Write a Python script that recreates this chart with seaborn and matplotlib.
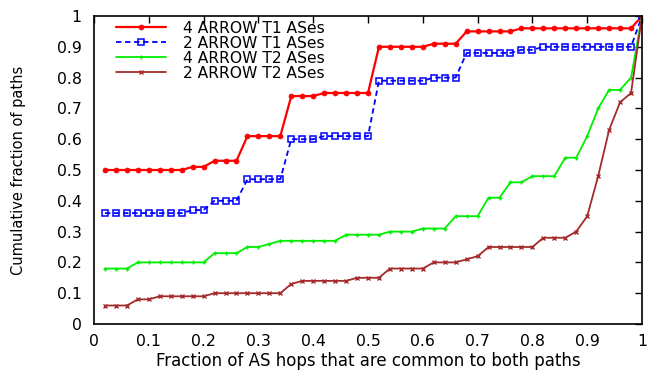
import numpy as np
import pandas as pd
import matplotlib
matplotlib.use("Agg")
import matplotlib.pyplot as plt
import seaborn as sns

# Fraction of AS hops shared by both paths (x) and the cumulative fraction of paths (y)
hop_fraction = [round(0.02 * i, 2) for i in range(1, 51)]

arrow4_t1 = ([0.50] * 8 + [0.51] * 2 + [0.53] * 3 + [0.61] * 4 + [0.74] * 3 +
             [0.75] * 5 + [0.90] * 5 + [0.91] * 3 + [0.95] * 5 + [0.96] * 11 + [1.00])
arrow2_t1 = ([0.36] * 8 + [0.37] * 2 + [0.40] * 3 + [0.47] * 4 + [0.60] * 3 +
             [0.61] * 5 + [0.79] * 5 + [0.80] * 3 + [0.88] * 5 + [0.89] * 2 +
             [0.90] * 9 + [1.00])
arrow4_t2 = ([0.18] * 3 + [0.20] * 7 + [0.23] * 3 + [0.25] * 2 + [0.26] +
             [0.27] * 6 + [0.29] * 4 + [0.30] * 3 + [0.31] * 3 + [0.35] * 3 +
             [0.41] * 2 + [0.46] * 2 + [0.48] * 3 + [0.54] * 2 + [0.61] + [0.70] +
             [0.76] * 2 + [0.80] + [1.00])
arrow2_t2 = ([0.06] * 3 + [0.08] * 2 + [0.09] * 5 + [0.10] * 7 + [0.13] +
             [0.14] * 5 + [0.15] * 3 + [0.18] * 4 + [0.20] * 3 + [0.21] + [0.22] +
             [0.25] * 5 + [0.28] * 3 + [0.30] + [0.35] + [0.48] + [0.63] + [0.72] +
             [0.75] + [1.00])

series_names = ["4 ARROW T1 ASes", "2 ARROW T1 ASes", "4 ARROW T2 ASes", "2 ARROW T2 ASes"]
series_values = [arrow4_t1, arrow2_t1, arrow4_t2, arrow2_t2]

x_ticks = [0, 0.1, 0.2, 0.3, 0.4, 0.5, 0.6, 0.7, 0.8, 0.9, 1]
x_tick_labels = ["0", "0.1", "0.2", "0.3", "0.4", "0.5", "0.6", "0.7", "0.8", "0.9", "1"]
y_ticks = x_ticks
y_tick_labels = x_tick_labels

df = pd.concat(
    [pd.DataFrame({"hops": hop_fraction, "cdf": vals, "series": name})
     for name, vals in zip(series_names, series_values)],
    ignore_index=True,
)

sns.set_theme(style="white")
plt.rcParams["font.family"] = ["DejaVu Sans"]
plt.rcParams["text.color"] = "black"
plt.rcParams["axes.labelcolor"] = "black"

styles = {
    "4 ARROW T1 ASes": dict(color="#ff0000", marker="o", markersize=3.6, linestyle="-",
                            linewidth=1.6, markeredgecolor="#ff0000", markeredgewidth=0.5),
    "2 ARROW T1 ASes": dict(color="#0000ff", marker="s", markersize=4.4, linestyle=(0, (3, 2)),
                            linewidth=1.3, markerfacecolor="none",
                            markeredgecolor="#0000ff", markeredgewidth=1.1),
    "4 ARROW T2 ASes": dict(color="#00ee00", marker="+", markersize=3.5, linestyle="-",
                            linewidth=1.3, markeredgecolor="#00ee00", markeredgewidth=1.0),
    "2 ARROW T2 ASes": dict(color="#a52a2a", marker="x", markersize=3.0, linestyle="-",
                            linewidth=1.3, markeredgecolor="#a52a2a", markeredgewidth=1.0),
}

fig = plt.figure(figsize=(6.47, 3.73), dpi=100)
ax = fig.add_axes([94 / 647, 1 - 324 / 373, 548 / 647, 308 / 373])

for name in series_names:
    sub = df[df["series"] == name]
    sns.lineplot(data=sub, x="hops", y="cdf", ax=ax, label=name, estimator=None,
                 sort=False, **styles[name])

ax.set_xlim(0, 1)
ax.set_ylim(0, 1)
ax.set_xticks(x_ticks)
ax.set_xticklabels(x_tick_labels)
ax.set_yticks(y_ticks)
ax.set_yticklabels(y_tick_labels)
ax.tick_params(direction="in", length=5, width=1, top=True, right=True,
               labelsize=11.3, colors="black")
ax.tick_params(axis="x", pad=7)
ax.tick_params(axis="y", pad=9)
for side in ax.spines.values():
    side.set_color("black")
    side.set_linewidth(1.2)

ax.set_xlabel("Fraction of AS hops that are common to both paths", fontsize=12, labelpad=2)
ax.set_ylabel("Cumulative fraction of paths", fontsize=10.5, labelpad=22)

ax.legend(loc="upper left", bbox_to_anchor=(0.041, 0.985), frameon=False, fontsize=11.2,
          handlelength=3.2, handletextpad=1.05, labelspacing=0.0, borderpad=0,
          borderaxespad=0)

fig.savefig("out.png", dpi=100)
